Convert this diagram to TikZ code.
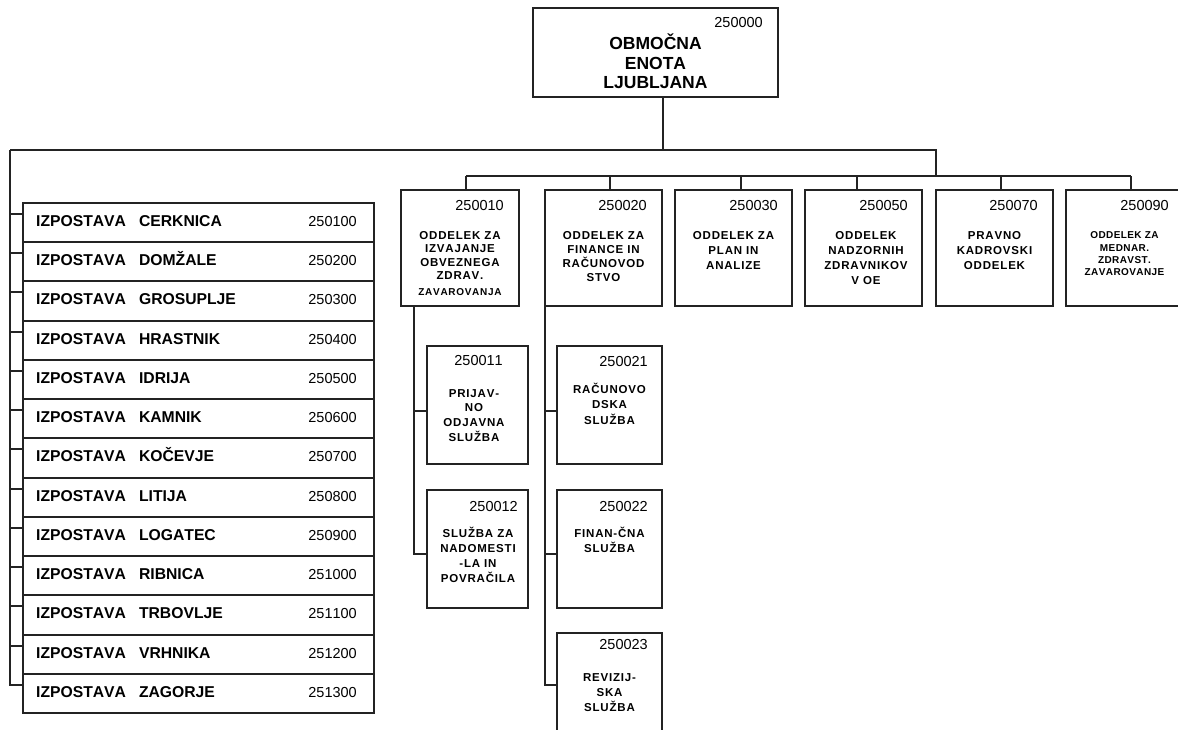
\documentclass[tikz,border=0pt]{standalone}
\usepackage{fontspec}
\setmainfont[Kerning=Off]{Liberation Sans}
\newfontfamily\lsfont[LetterSpace=7,Kerning=Off]{Liberation Sans}
\newfontfamily\lsfontb[LetterSpace=4,Kerning=Off]{Liberation Sans}
\definecolor{linec}{RGB}{35,35,35}
\usetikzlibrary{calc}
\begin{document}
\begin{tikzpicture}[x=1pt,y=-1pt,
  box/.style={draw=linec, line width=1.2pt, inner sep=0pt, outer sep=0pt, anchor=north west},
  numtxt/.style={font=\fontsize{14.5}{17}\selectfont, inner sep=0pt, anchor=base east, text=black},
  dtext/.style={font=\lsfont\bfseries\fontsize{11.5}{#1}\selectfont, align=center, inner sep=0pt, anchor=north, text=black},
  dtextsmall/.style={font=\lsfontb\bfseries\fontsize{10}{#1}\selectfont, align=center, inner sep=0pt, anchor=north, text=black},
  conn/.style={draw=linec, line width=1.2pt},
  ]
\useasboundingbox (0,0) rectangle (1178,729);
\fill[white] (0,0) rectangle (1178,729);
\clip (0,0) rectangle (1178,729);

% top box
\node[box, minimum width=245pt, minimum height=89pt] (top) at (533,8) {};
\node[numtxt] (topn) at ([xshift=-15pt,yshift=-19pt]top.north east) {250000};
\node[font=\bfseries\fontsize{17.5}{19.5}\selectfont, align=center, inner sep=0pt, anchor=north] (topt)
  at ([yshift=-21.3pt]top.north) {\rule{0pt}{20pt}OBMOČNA\\ENOTA\\LJUBLJANA};

% main connectors
\coordinate (J) at (663,150);
\coordinate (L) at (10,150);
\coordinate (R) at (936,150);
\coordinate (B) at (936,176);
\draw[conn] (top.south -| J) -- (J);
\draw[conn] (L) -- (R) -- (B);

% department boxes
\node[box, minimum width=118pt, minimum height=116pt] (d1) at (401,190) {};
\node[box, minimum width=117pt, minimum height=116pt] (d2) at (545,190) {};
\node[box, minimum width=117pt, minimum height=116pt] (d3) at (675,190) {};
\node[box, minimum width=117pt, minimum height=116pt] (d4) at (805,190) {};
\node[box, minimum width=117pt, minimum height=116pt] (d5) at (936,190) {};
\node[box, minimum width=117pt, minimum height=116pt] (d6) at (1066,190) {};

\coordinate (c1) at (466,190);
\coordinate (c2) at (610,190);
\coordinate (c3) at (741,190);
\coordinate (c4) at (857,190);
\coordinate (c5) at (1001,190);
\coordinate (c6) at (1131,190);
\draw[conn] (c1 |- B) -- (c6 |- B);
\foreach \k in {1,...,6} {\draw[conn] (c\k |- B) -- (c\k);}

\node[numtxt] (d1n) at ([xshift=-15pt,yshift=-20pt]d1.north east) {250010};
\node[numtxt] (d2n) at ([xshift=-15pt,yshift=-20pt]d2.north east) {250020};
\node[numtxt] (d3n) at ([xshift=-14pt,yshift=-20pt]d3.north east) {250030};
\node[numtxt] (d4n) at ([xshift=-14pt,yshift=-20pt]d4.north east) {250050};
\node[numtxt] (d5n) at ([xshift=-15pt,yshift=-20pt]d5.north east) {250070};
\node[numtxt] (d6n) at ([xshift=-14pt,yshift=-20pt]d6.north east) {250090};

\node[dtext=13.4] (d1t) at ([yshift=-36pt]d1.north)
  {\rule{0pt}{13pt}ODDELEK ZA\\IZVAJANJE\\OBVEZNEGA\\ZDRAV.\\[3pt]{\lsfont\bfseries\fontsize{10}{12}\selectfont ZAVAROVANJA}};
\node[dtext=14] (d2t) at ([yshift=-36pt]d2.north)
  {\rule{0pt}{13pt}ODDELEK ZA\\FINANCE IN\\RAČUNOVOD\\STVO};
\node[dtext=15] (d3t) at ([yshift=-36pt]d3.north)
  {\rule{0pt}{13pt}ODDELEK ZA\\PLAN IN\\ANALIZE};
\node[dtext=15] (d4t) at ([xshift=2.5pt,yshift=-36pt]d4.north)
  {\rule{0pt}{13pt}ODDELEK\\NADZORNIH\\ZDRAVNIKOV\\V OE};
\node[dtext=15] (d5t) at ([yshift=-36pt]d5.north)
  {\rule{0pt}{13pt}PRAVNO\\KADROVSKI\\ODDELEK};
\node[dtextsmall=12.3] (d6t) at ([yshift=-37.6pt]d6.north)
  {\rule{0pt}{11pt}ODDELEK ZA\\MEDNAR.\\ZDRAVST.\\ZAVAROVANJE};

% sub boxes
\node[box, minimum width=101pt, minimum height=118pt] (s11) at (427,346) {};
\node[box, minimum width=101pt, minimum height=118pt] (s12) at (427,490) {};
\node[box, minimum width=105pt, minimum height=118pt] (s21) at (557,346) {};
\node[box, minimum width=105pt, minimum height=118pt] (s22) at (557,490) {};
\node[box, minimum width=105pt, minimum height=118pt] (s23) at (557,633) {};

\draw[conn] ([xshift=13pt]d1.south west) |- ([yshift=-6pt]s11.west);
\draw[conn] ([xshift=13pt]d1.south west) |- ([yshift=-5pt]s12.west);
\draw[conn] (d2.south west) |- ([yshift=-6pt]s21.west);
\draw[conn] (d2.south west) |- ([yshift=-5pt]s22.west);
\draw[conn] (d2.south west) |- ([yshift=7pt]s23.west);

\node[numtxt] (s11n) at ([xshift=-25pt,yshift=-19pt]s11.north east) {250011};
\node[numtxt] (s21n) at ([xshift=-14pt,yshift=-20pt]s21.north east) {250021};
\node[numtxt] (s12n) at ([xshift=-10pt,yshift=-21pt]s12.north east) {250012};
\node[numtxt] (s22n) at ([xshift=-14pt,yshift=-21pt]s22.north east) {250022};
\node[numtxt] (s23n) at ([xshift=-14pt,yshift=-16pt]s23.north east) {250023};

\node[dtext=14.7] (s11t) at ([xshift=-3.5pt,yshift=-38pt]s11.north)
  {\rule{0pt}{13pt}PRIJAV-\\NO\\ODJAVNA\\SLUŽBA};
\node[dtext=15.5] (s21t) at ([yshift=-34pt]s21.north)
  {\rule{0pt}{13pt}RAČUNOVO\\DSKA\\SLUŽBA};
\node[dtext=15] (s12t) at ([xshift=0.5pt,yshift=-34pt]s12.north)
  {\rule{0pt}{13pt}SLUŽBA ZA\\NADOMESTI\\-LA IN\\POVRAČILA};
\node[dtext=15] (s22t) at ([yshift=-34pt]s22.north)
  {\rule{0pt}{13pt}FINAN-ČNA\\SLUŽBA};
\node[dtext=15] (s23t) at ([yshift=-35pt]s23.north)
  {\rule{0pt}{13pt}REVIZIJ-\\SKA\\SLUŽBA};

% izpostave
\foreach \nm/\num [count=\i from 0] in {CERKNICA/250100, DOMŽALE/250200, GROSUPLJE/250300,
  HRASTNIK/250400, IDRIJA/250500, KAMNIK/250600, KOČEVJE/250700, LITIJA/250800,
  LOGATEC/250900, RIBNICA/251000, TRBOVLJE/251100, VRHNIKA/251200, ZAGORJE/251300} {
  \pgfmathsetmacro\ytop{203+round(39.23*\i)}
  \pgfmathsetmacro\hgt{203+round(39.23*(\i+1))-\ytop}
  \node[box, minimum width=351pt, minimum height=\hgt pt] (r\i) at (23,\ytop) {};
  \node[font=\bfseries\fontsize{15.7}{18}\selectfont, inner sep=0pt, anchor=base west, text=black]
    (rn\i) at ([xshift=13pt,yshift=-23pt]r\i.north west) {IZPOSTAVA\hspace{13pt}\nm};
  \node[numtxt] (rv\i) at ([xshift=-17pt,yshift=-23pt]r\i.north east) {\num};
  \draw[conn] (L) |- ([yshift=-11pt]r\i.north west);
}
\end{tikzpicture}
\end{document}
